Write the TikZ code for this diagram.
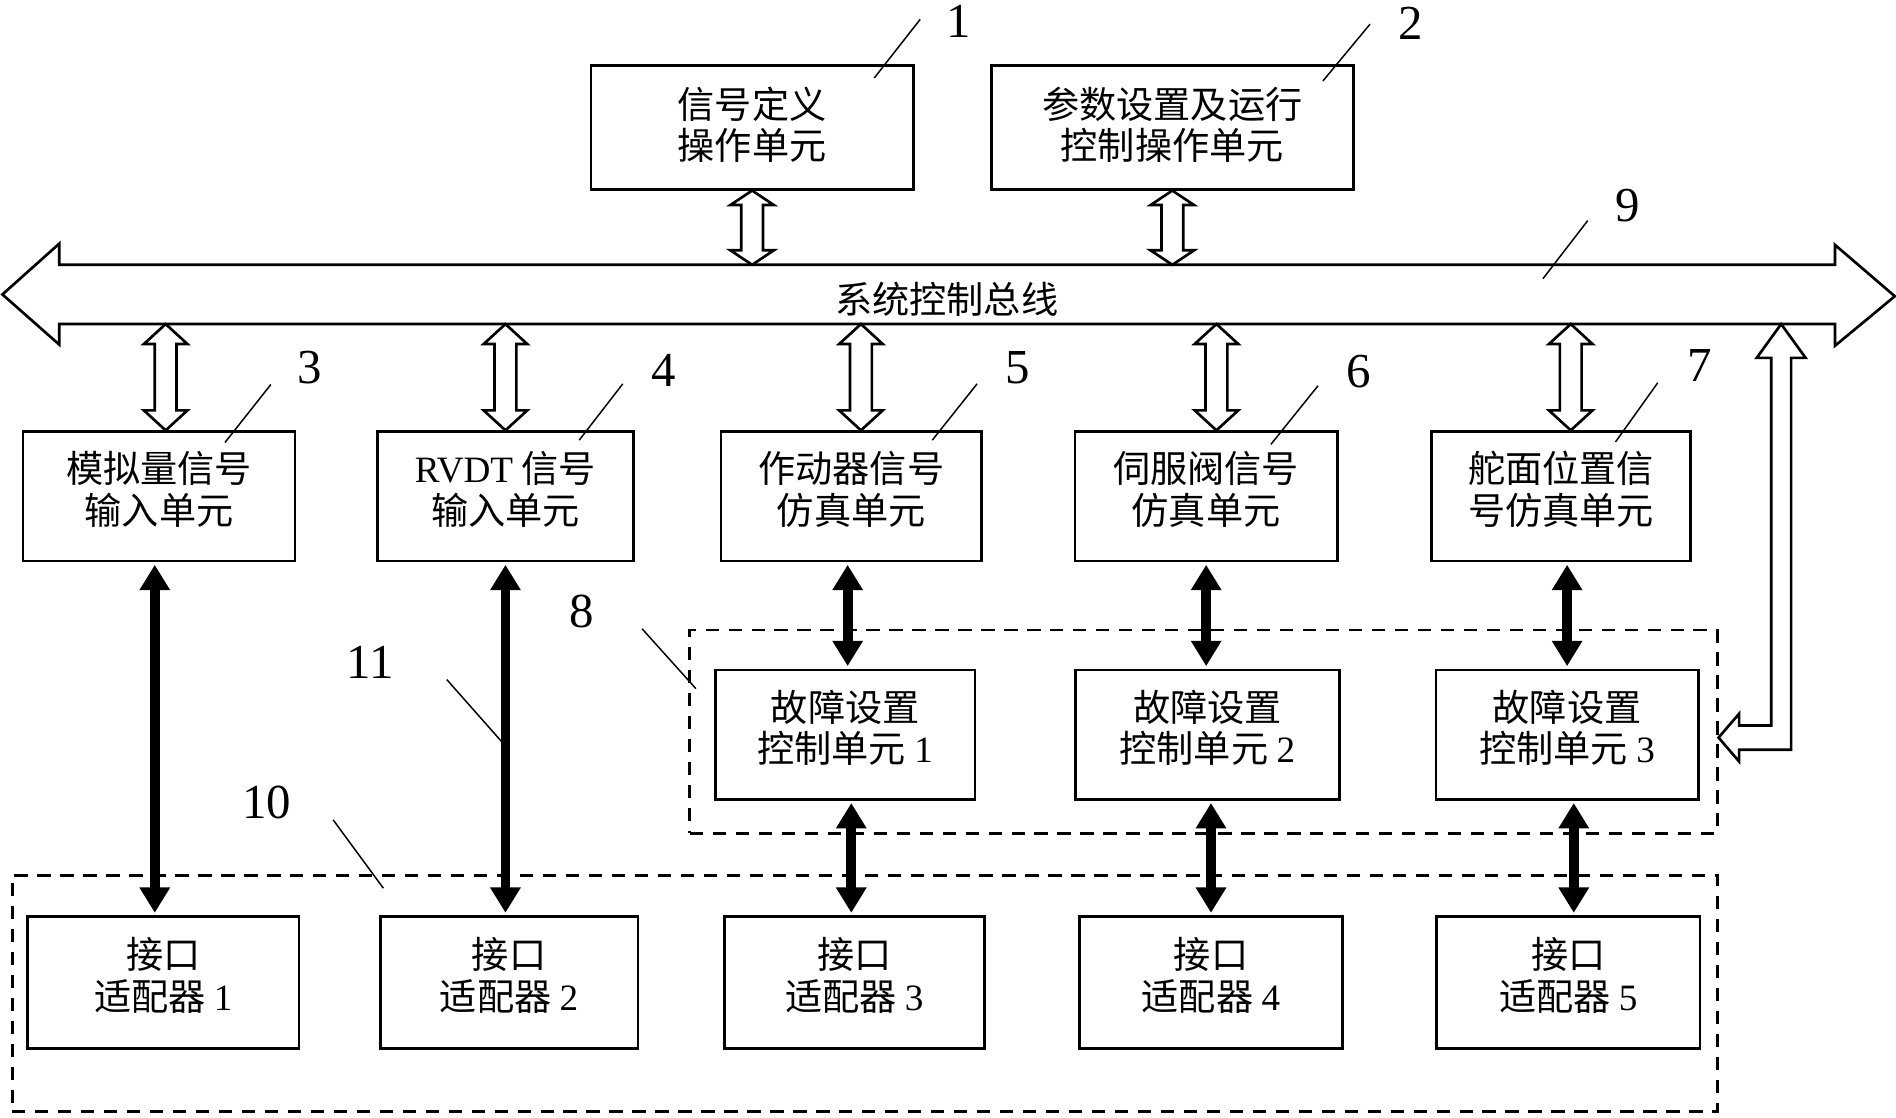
\documentclass[tikz,border=0pt]{standalone}
\usepackage{fontspec}
\setmainfont{Liberation Serif}
\newfontfamily\cjk{Noto Sans CJK SC}
\usepackage{tikz}
\usetikzlibrary{arrows.meta}
\usetikzlibrary{calc}
\newcommand\latn[1]{{\rmfamily #1}}
% hollow double arrow: x from #2, top y from #3, bottom y from #4
\newcommand\dblarrow[4][0.33cm]{%
  \draw[hollow] let \p1=#2, \p2=#3, \p3=#4 in
    (\x1,\y2) -- (\x1+0.36cm,\y2-#1) -- (\x1+0.18cm,\y2-#1) -- (\x1+0.18cm,\y3+#1)
    -- (\x1+0.36cm,\y3+#1) -- (\x1,\y3) -- (\x1-0.36cm,\y3+#1) -- (\x1-0.18cm,\y3+#1)
    -- (\x1-0.18cm,\y2-#1) -- (\x1-0.36cm,\y2-#1) -- cycle;}
\tikzset{unit/.style={draw, line width=1.25pt, align=center, inner sep=0pt, text depth=0.28cm,
   font=\cjk\fontsize{17.5}{19.5}\selectfont},
 grp/.style={draw, line width=1.4pt, dash pattern=on 0.22cm off 0.16cm, inner sep=0pt},
 hollow/.style={draw, fill=white, line width=1.25pt, line join=miter},
 blk/.style={line width=4.6pt, arrows={Triangle[length=0.42cm,width=0.48cm]-Triangle[length=0.42cm,width=0.48cm]},
   shorten <=0.04cm, shorten >=0.04cm},
 lead/.style={line width=0.7pt},
 num/.style={font=\fontsize{23}{23}\selectfont, inner sep=0pt},
 }

\begin{document}
\begin{tikzpicture}
    \path[use as bounding box, fill=white] (0,0) rectangle (31.36,-18.48);
    % dashed groups 8 and 10
    \node[grp, minimum width=16.99cm, minimum height=3.36cm] (grp8) at (19.905,-12.10) {};
    \node[grp, minimum width=28.2cm, minimum height=3.9cm] (grp10) at (14.30,-16.43) {};
    % system bus
    \draw[hollow] (0.04,-4.87) -- (0.98,-4.03) -- (0.98,-4.38) -- (30.35,-4.38) -- (30.35,-4.05)
        -- (31.34,-4.90) -- (30.35,-5.72) -- (30.35,-5.36) -- (0.98,-5.36) -- (0.98,-5.70) -- cycle;
    \node[font=\cjk\fontsize{17.5}{19.5}\selectfont] (bus) at (15.66,-4.95) {系统控制总线};
    \coordinate (busT) at (15.66,-4.38);
    \coordinate (busB) at (15.66,-5.36);
    \coordinate (tap) at (29.46,-5.36);

    \node[unit, text depth=0.13cm, minimum width=5.33cm, minimum height=2.05cm] (n1) at (12.44,-2.105) {信号定义\\操作单元};
    \node[unit, text depth=0.13cm, minimum width=5.99cm, minimum height=2.05cm] (n2) at (19.39,-2.105) {参数设置及运行\\控制操作单元};

    \node[unit, minimum width=4.50cm, minimum height=2.14cm] (b3) at (2.63,-8.21) {模拟量信号\\输入单元};
    \node[unit, minimum width=4.24cm, minimum height=2.14cm] (b4) at (8.36,-8.21) {\latn{RVDT} 信号\\输入单元};
    \node[unit, minimum width=4.31cm, minimum height=2.14cm] (b5) at (14.08,-8.21) {作动器信号\\仿真单元};
    \node[unit, minimum width=4.34cm, minimum height=2.14cm] (b6) at (19.95,-8.21) {伺服阀信号\\仿真单元};
    \node[unit, minimum width=4.29cm, minimum height=2.14cm] (b7) at (25.82,-8.21) {舵面位置信\\号仿真单元};

    \node[unit, minimum width=4.29cm, minimum height=2.14cm] (f1) at (13.98,-12.15) {故障设置\\控制单元 \latn{1}};
    \node[unit, minimum width=4.37cm, minimum height=2.14cm] (f2) at (19.97,-12.15) {故障设置\\控制单元 \latn{2}};
    \node[unit, minimum width=4.34cm, minimum height=2.14cm] (f3) at (25.92,-12.15) {故障设置\\控制单元 \latn{3}};

    \node[unit, minimum width=4.49cm, minimum height=2.18cm] (a1) at (2.70,-16.25) {接口\\适配器 \latn{1}};
    \node[unit, minimum width=4.26cm, minimum height=2.18cm] (a2) at (8.42,-16.25) {接口\\适配器 \latn{2}};
    \node[unit, minimum width=4.30cm, minimum height=2.18cm] (a3) at (14.13,-16.25) {接口\\适配器 \latn{3}};
    \node[unit, minimum width=4.36cm, minimum height=2.18cm] (a4) at (20.03,-16.25) {接口\\适配器 \latn{4}};
    \node[unit, minimum width=4.36cm, minimum height=2.18cm] (a5) at (25.94,-16.25) {接口\\适配器 \latn{5}};

    % bus links
    \dblarrow[0.24cm]{(n1.south)}{(n1.south)}{(busT)}
    \dblarrow[0.24cm]{(n2.south)}{(n2.south)}{(busT)}
    \dblarrow{([xshift=0.11cm]b3.north)}{(busB)}{(b3.north)}
    \dblarrow{(b4.north)}{(busB)}{(b4.north)}
    \dblarrow{([xshift=0.16cm]b5.north)}{(busB)}{(b5.north)}
    \dblarrow{([xshift=0.17cm]b6.north)}{(busB)}{(b6.north)}
    \dblarrow{([xshift=0.16cm]b7.north)}{(busB)}{(b7.north)}
    \draw[hollow] let \p1=(tap), \p2=([yshift=-0.1cm]grp8.east) in
        (\x1,\y1) -- (\x1+0.405cm,\y1-0.56cm) -- (\x1+0.165cm,\y1-0.56cm) -- (\x1+0.165cm,\y2-0.2cm)
        -- (\x2+0.34cm,\y2-0.2cm) -- (\x2+0.34cm,\y2-0.395cm) -- (\x2,\y2) -- (\x2+0.34cm,\y2+0.395cm)
        -- (\x2+0.34cm,\y2+0.2cm) -- (\x1-0.165cm,\y2+0.2cm) -- (\x1-0.165cm,\y1-0.56cm)
        -- (\x1-0.405cm,\y1-0.56cm) -- cycle;

    % signal links
    \draw[blk] ([xshift=-0.07cm]b3.south) -- ([xshift=-0.07cm]b3.south |- a1.north);
    \draw[blk] (b4.south) -- (b4.south |- a2.north);
    \draw[blk] ([xshift=-0.06cm]b5.south) -- ([xshift=-0.06cm]b5.south |- f1.north);
    \draw[blk] (b6.south) -- (b6.south |- f2.north);
    \draw[blk] (f3.north |- b7.south) -- (f3.north);
    \draw[blk] ([xshift=-0.05cm]a3.north |- f1.south) -- ([xshift=-0.05cm]a3.north);
    \draw[blk] (a4.north |- f2.south) -- (a4.north);
    \draw[blk] ([xshift=0.09cm]a5.north |- f3.south) -- ([xshift=0.09cm]a5.north);

    % reference numbers
    \node[num] (l1) at (15.86,-0.35) {1};
    \draw[lead] (l1) ++(-0.64,0.03) -- ++(-0.76,-0.97);
    \node[num] (l2) at (23.34,-0.38) {2};
    \draw[lead] (l2) ++(-0.68,-0.02) -- ++(-0.78,-0.94);
    \node[num] (l9) at (26.92,-3.40) {9};
    \draw[lead] (l9) ++(-0.66,-0.25) -- ++(-0.74,-0.96);
    \node[num] (l3) at (5.12,-6.08) {3};
    \draw[lead] (l3) ++(-0.64,-0.28) -- ++(-0.76,-0.96);
    \node[num] (l4) at (10.98,-6.12) {4};
    \draw[lead] (l4) ++(-0.68,-0.23) -- ++(-0.72,-0.93);
    \node[num] (l5) at (16.84,-6.08) {5};
    \draw[lead] (l5) ++(-0.68,-0.27) -- ++(-0.74,-0.93);
    \node[num] (l6) at (22.48,-6.14) {6};
    \draw[lead] (l6) ++(-0.68,-0.24) -- ++(-0.78,-0.97);
    \node[num] (l7) at (28.11,-6.05) {7};
    \draw[lead] (l7) ++(-0.69,-0.28) -- ++(-0.70,-0.98);
    \node[num] (l8) at (9.62,-10.12) {8};
    \draw[lead] (l8) ++(1.00,-0.28) -- ++(0.89,-0.99);
    \node[num] (l11) at (6.12,-10.96) {11};
    \draw[lead] (l11) ++(1.27,-0.28) -- ++(0.91,-1.03);
    \node[num] (l10) at (4.41,-13.28) {10};
    \draw[lead] (l10) ++(1.10,-0.28) -- ++(0.83,-1.13);
\end{tikzpicture}
\end{document}
